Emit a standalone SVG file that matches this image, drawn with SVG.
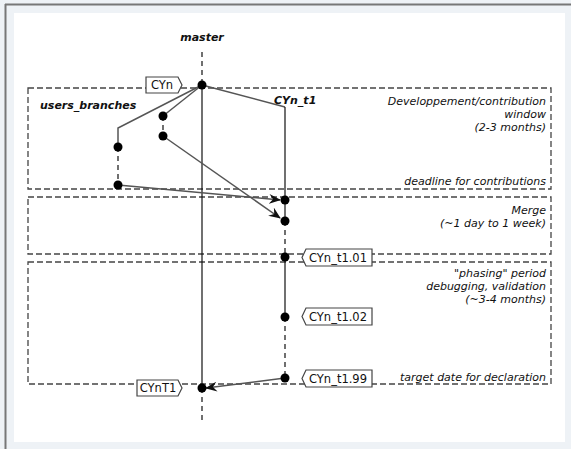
<svg xmlns="http://www.w3.org/2000/svg" width="571" height="449" viewBox="0 0 571 449">
<defs>
<style>
.t{font-family:"DejaVu Sans","Liberation Sans",sans-serif;font-size:11px;fill:#111}
.g{font-size:11.5px}
.i{font-style:italic;text-anchor:end}
.b{font-style:italic;font-weight:bold}
.box{fill:none;stroke:#444;stroke-width:1.3;stroke-dasharray:6,3}
.ln{fill:none;stroke:#555;stroke-width:1.5}
.vl{fill:none;stroke:#111;stroke-width:1.2}
.dl{fill:none;stroke:#111;stroke-width:1.2;stroke-dasharray:5,4}
.tag{fill:#fff;stroke:#444;stroke-width:1.2}
.dot{fill:#000}
</style>
<marker id="ah" viewBox="0 0 12 10" refX="11" refY="5" markerWidth="12" markerHeight="10" markerUnits="userSpaceOnUse" orient="auto">
<path d="M0,0 L12,5 L0,10 L4,5 z" fill="#111"/>
</marker>
</defs>
<rect x="0" y="0" width="571" height="449" fill="#eef2f6"/>
<rect x="14" y="13" width="551" height="429" fill="#fff"/>
<line x1="5.5" y1="4" x2="5.5" y2="449" stroke="#777" stroke-width="2"/>
<line x1="5" y1="4.5" x2="571" y2="4.5" stroke="#777" stroke-width="2"/>

<g id="windows">
<rect class="box" x="28" y="88" width="523" height="101"/>
<rect class="box" x="28" y="197" width="523" height="57"/>
<rect class="box" x="28" y="262" width="523" height="122"/>
<text class="t i" x="546" y="105">Developpement/contribution</text>
<text class="t i" x="546" y="118">window</text>
<text class="t i" x="546" y="131">(2-3 months)</text>
<text class="t i" x="546" y="185">deadline for contributions</text>
<text class="t i" x="546" y="214">Merge</text>
<text class="t i" x="546" y="227">(~1 day to 1 week)</text>
<text class="t i" x="546" y="277">"phasing" period</text>
<text class="t i" x="546" y="290">debugging, validation</text>
<text class="t i" x="546" y="303">(~3-4 months)</text>
<text class="t i" x="546" y="381">target date for declaration</text>
</g>

<g id="labels">
<text class="t b" x="202" y="41" text-anchor="middle">master</text>
<text class="t b" x="40" y="109">users_branches</text>
<text class="t b" x="274" y="104">CYn_t1</text>
</g>

<g id="connectors">
<line class="dl" x1="202" y1="52" x2="202" y2="85"/>
<line class="vl" x1="202" y1="85" x2="202" y2="388"/>
<line class="dl" x1="202" y1="388" x2="202" y2="421"/>
<polyline class="ln" points="202,85 118,128 118,147"/>
<line class="dl" x1="118" y1="147" x2="118" y2="185"/>
<line class="ln" x1="202" y1="85" x2="163" y2="116"/>
<line class="dl" x1="163" y1="116" x2="163" y2="136"/>
<polyline class="ln" points="202,85 285,107"/>
<line class="vl" x1="285" y1="107" x2="285" y2="221"/>
<line class="dl" x1="285" y1="221" x2="285" y2="257"/>
<line class="vl" x1="285" y1="257" x2="285" y2="317"/>
<line class="dl" x1="285" y1="317" x2="285" y2="378"/>
<line class="ln" x1="118" y1="185" x2="280" y2="200" marker-end="url(#ah)"/>
<line class="ln" x1="163" y1="136" x2="280" y2="218" marker-end="url(#ah)"/>
<line class="ln" x1="285" y1="378" x2="206" y2="388" marker-end="url(#ah)"/>
</g>

<g id="commits">
<circle class="dot" cx="202" cy="85" r="4.5"/>
<circle class="dot" cx="118" cy="147" r="4.5"/>
<circle class="dot" cx="118" cy="185" r="4.5"/>
<circle class="dot" cx="163" cy="116" r="4.5"/>
<circle class="dot" cx="163" cy="136" r="4.5"/>
<circle class="dot" cx="285" cy="200" r="4.5"/>
<circle class="dot" cx="285" cy="221" r="4.5"/>
<circle class="dot" cx="285" cy="257" r="4.5"/>
<circle class="dot" cx="285" cy="317" r="4.5"/>
<circle class="dot" cx="285" cy="378" r="4.5"/>
<circle class="dot" cx="202" cy="388" r="4.5"/>
</g>

<g id="tag-CYn">
<path class="tag" d="M146,77 H178 L182,85 L178,93 H146 Z"/>
<text class="t g" x="162" y="89" text-anchor="middle">CYn</text>
</g>
<g id="tag-CYnT1">
<path class="tag" d="M137,380 H178 L182,388 L178,396 H137 Z"/>
<text class="t g" x="158" y="392" text-anchor="middle">CYnT1</text>
</g>
<g id="tag-CYn_t1.01">
<path class="tag" d="M306,249 H372 V266 H306 L302,257.5 Z"/>
<text class="t g" x="338" y="262" text-anchor="middle">CYn_t1.01</text>
</g>
<g id="tag-CYn_t1.02">
<path class="tag" d="M306,308 H372 V325 H306 L302,316.5 Z"/>
<text class="t g" x="338" y="321" text-anchor="middle">CYn_t1.02</text>
</g>
<g id="tag-CYn_t1.99">
<path class="tag" d="M306,370 H372 V387 H306 L302,378.5 Z"/>
<text class="t g" x="338" y="383" text-anchor="middle">CYn_t1.99</text>
</g>
</svg>
